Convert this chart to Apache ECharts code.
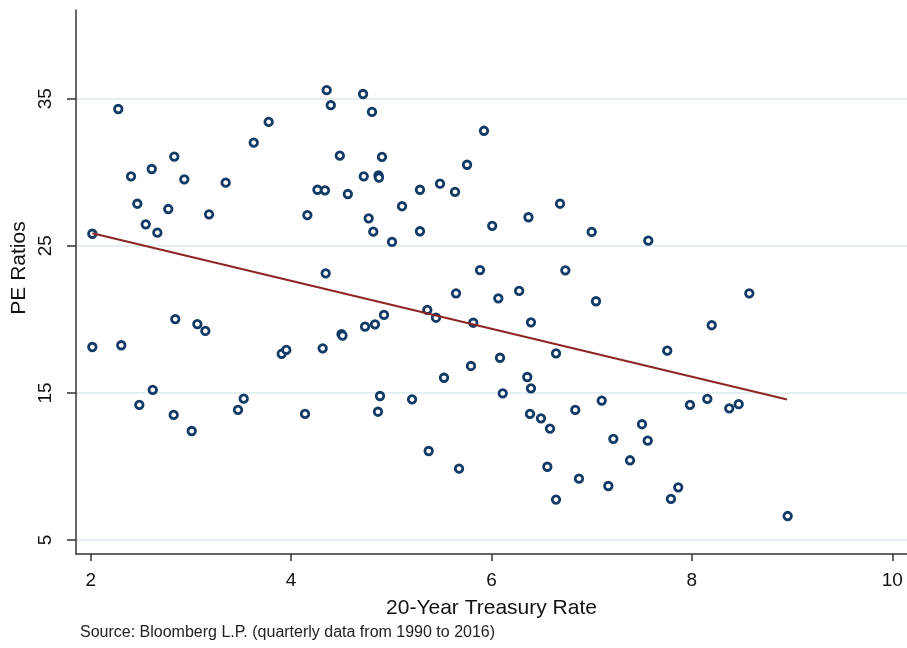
<!DOCTYPE html>
<html>
<head>
<meta charset="utf-8">
<script src="https://cdn.jsdelivr.net/npm/echarts@6/dist/echarts.min.js"></script>
<style>
html,body{margin:0;padding:0;background:#fff;}
#c{width:907px;height:648px;}
</style>
</head>
<body>
<div id="c"></div>
<script>
// 20-Year Treasury Rate (x) vs PE Ratio (y), quarterly 1990-2016
const rateX = [2.016,2.016,2.275,2.305,2.402,2.465,2.485,2.549,2.609,2.619,2.665,2.774,2.834,2.844,2.828,2.934,3.008,3.064,3.144,3.181,3.347,3.470,3.527,3.627,3.776,3.906,3.952,4.139,4.162,4.263,4.315,4.338,4.345,4.355,4.396,4.486,4.503,4.513,4.566,4.718,4.738,4.725,4.774,4.807,4.820,4.837,4.872,4.877,4.887,4.867,4.907,4.927,5.007,5.107,5.207,5.286,5.286,5.359,5.373,5.446,5.486,5.526,5.636,5.646,5.676,5.756,5.795,5.818,5.885,5.925,6.007,6.068,6.085,6.112,6.276,6.357,6.369,6.394,6.394,6.384,6.494,6.557,6.584,6.644,6.644,6.684,6.737,6.836,6.873,7.000,7.043,7.100,7.166,7.216,7.382,7.502,7.559,7.565,7.754,7.791,7.864,7.981,8.154,8.198,8.373,8.467,8.573,8.956];
const peY = [25.82,18.12,34.30,18.24,29.72,27.86,14.18,26.46,30.22,15.20,25.89,27.50,31.06,20.02,13.50,29.52,12.41,19.68,19.21,27.14,29.29,13.84,14.61,32.01,33.42,17.66,17.92,13.57,27.09,28.81,18.03,28.77,23.13,35.58,34.56,31.13,19.00,18.90,28.52,35.32,19.50,29.72,26.87,34.10,25.96,19.66,29.78,29.64,14.79,13.72,31.04,20.30,25.26,27.69,14.56,28.81,25.99,20.64,11.05,20.11,29.22,16.03,28.66,21.77,9.85,30.51,16.83,19.77,23.35,32.82,26.36,21.43,17.39,14.97,21.93,16.08,26.94,19.80,15.31,13.57,13.27,9.98,12.57,17.69,7.75,27.86,23.33,13.84,9.17,25.94,21.23,14.48,8.67,11.88,10.42,12.87,11.75,25.35,17.87,7.79,8.58,14.18,14.59,19.60,13.95,14.23,21.77,6.63];
const trendX = [2.016, 8.95];
const trendY = [25.85, 14.55];
const xTicks = [2, 4, 6, 8, 10];
const yTicks = [5, 15, 25, 35];

const FONT = '"Liberation Sans", Arial, sans-serif';
const scatterData = rateX.map((x, i) => [x, peY[i]]);
const trendData = trendX.map((x, i) => [x, trendY[i]]);

const chart = echarts.init(document.getElementById('c'), null, {renderer: 'canvas'});
chart.setOption({
  animation: false,
  backgroundColor: '#ffffff',
  grid: {left: 76, right: 0, top: 10, bottom: 94, containLabel: false},
  xAxis: {
    type: 'value',
    min: 1.853, max: 10.147,
    name: '20-Year Treasury Rate',
    nameLocation: 'middle',
    nameGap: 44,
    nameTextStyle: {fontFamily: FONT, fontSize: 21, color: '#111'},
    axisLine: {show: true, onZero: false, lineStyle: {color: '#333', width: 1.5}},
    axisTick: {show: true, inside: false, length: 7, customValues: xTicks, lineStyle: {color: '#333', width: 1.5}},
    axisLabel: {customValues: xTicks, margin: 17, fontFamily: FONT, fontSize: 19, color: '#111', showMinLabel: true, showMaxLabel: true},
    splitLine: {show: false}
  },
  yAxis: {
    type: 'value',
    min: 4.048, max: 41.03,
    axisLine: {show: true, onZero: false, lineStyle: {color: '#333', width: 1.5}},
    axisTick: {show: true, inside: false, length: 9, customValues: yTicks, lineStyle: {color: '#333', width: 1.5}},
    axisLabel: {customValues: yTicks, rotate: 90, margin: 21, fontFamily: FONT, fontSize: 19, color: '#111'},
    splitLine: {show: true, lineStyle: {color: '#e4eff1', width: 2}}
  },
  series: [
    {
      type: 'scatter',
      data: scatterData,
      symbol: 'circle',
      symbolSize: 7.5,
      itemStyle: {color: '#ffffff', borderColor: '#123a66', borderWidth: 2.8, opacity: 1},
      z: 3
    },
    {
      type: 'line',
      data: trendData,
      symbol: 'none',
      lineStyle: {color: '#8e2424', width: 2},
      z: 4
    }
  ],
  graphic: [
    {
      type: 'text',
      x: 19, y: 268,
      rotation: Math.PI / 2,
      style: {text: 'PE Ratios', font: '21px ' + FONT, fill: '#111', align: 'center', verticalAlign: 'middle'}
    },
    {
      type: 'text',
      left: 80, top: 625,
      style: {text: 'Source: Bloomberg L.P. (quarterly data from 1990 to 2016)', font: '16px ' + FONT, fill: '#222'}
    }
  ]
});
</script>
</body>
</html>
